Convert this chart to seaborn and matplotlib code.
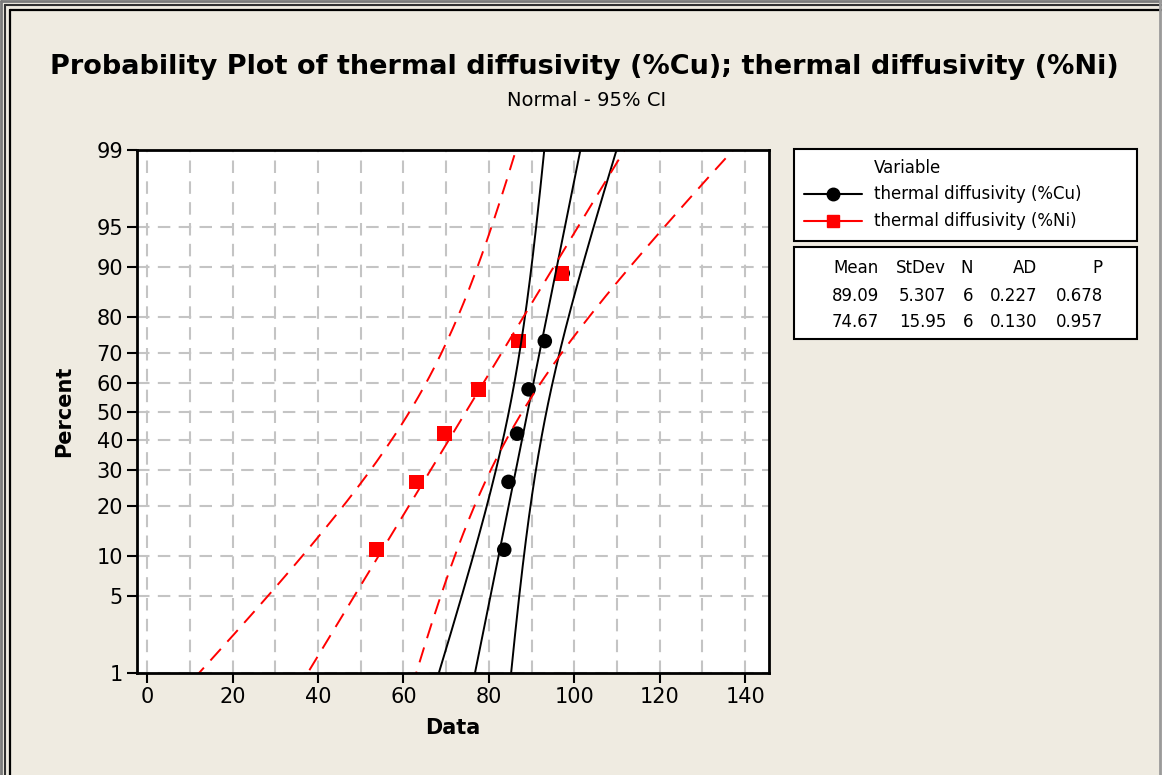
import numpy as np
import pandas as pd
import matplotlib
matplotlib.use("Agg")
import matplotlib.pyplot as plt
import seaborn as sns
from matplotlib.lines import Line2D
from matplotlib.patches import Rectangle
from statistics import NormalDist

# ---------------- data ----------------
series_names = ["thermal diffusivity (%Cu)", "thermal diffusivity (%Ni)"]
cu_values = [83.6, 84.6, 86.6, 89.3, 93.1, 97.3]
ni_values = [53.7, 63.1, 69.6, 77.6, 86.9, 97.1]
means = [89.09, 74.67]
stdevs = [5.307, 15.95]
ns = [6, 6]
ads = [0.227, 0.130]
pvals = [0.678, 0.957]
stat_headers = ["Mean", "StDev", "N", "AD", "P"]
percent_ticks = [1, 5, 10, 20, 30, 40, 50, 60, 70, 80, 90, 95, 99]
x_ticks = [0, 20, 40, 60, 80, 100, 120, 140]
x_grid = [10, 30, 50, 70, 90, 110, 130]
colors = ["#000000", "#FF0000"]
bg = "#EFEBE1"

nd = NormalDist()

def zval(p):
    return nd.inv_cdf(p)

# points with median-rank plotting positions
rows = []
for name, vals in zip(series_names, [cu_values, ni_values]):
    n = len(vals)
    for i, v in enumerate(sorted(vals), start=1):
        rows.append({"variable": name, "value": v, "z": zval((i - 0.3) / (n + 0.4))})
pts = pd.DataFrame(rows)

# fitted line and 95% CI bands
zgrid = np.linspace(zval(0.002), zval(0.998), 200)
line_rows = []
for name, m, s, n in zip(series_names, means, stdevs, ns):
    half = 1.96 * s * np.sqrt((1 + zgrid ** 2 / 2) / n) * 1.035
    fit = m + zgrid * s
    for kind, xs in [("fit", fit), ("lo", fit - half), ("hi", fit + half)]:
        for xv, zv in zip(xs, zgrid):
            line_rows.append({"variable": name, "kind": kind, "x": xv, "z": zv})
lines = pd.DataFrame(line_rows)

# ---------------- figure ----------------
sns.set_style("white")
plt.rcParams["font.family"] = ["DejaVu Sans"]
plt.rcParams["text.color"] = "black"
plt.rcParams["axes.labelcolor"] = "black"

W, H = 1162, 775
fig = plt.figure(figsize=(W / 100, H / 100), dpi=100, facecolor=bg)

# frame lines (top / left / right)
for off, lw, col in [(1, 2.0, "#7a7a7a"), (5, 1.5, "#303030"), (10, 1.6, "#000000")]:
    fig.add_artist(Line2D([off / W, off / W], [0, 1 - off / H], transform=fig.transFigure,
                          color=col, lw=lw))
    fig.add_artist(Line2D([off / W, 1], [1 - off / H, 1 - off / H], transform=fig.transFigure,
                          color=col, lw=lw))
fig.add_artist(Line2D([1160 / W, 1160 / W], [0, 1], transform=fig.transFigure, color="#9a9a9a", lw=2))

L, R, T, B = 137, 769, 150, 673
ax = fig.add_axes([L / W, 1 - B / H, (R - L) / W, (B - T) / H])
ax.set_facecolor("white")

# grid
ax.set_xticks(x_ticks)
ax.set_xticks(x_grid, minor=True)
ax.set_yticks([zval(p / 100) for p in percent_ticks])
ax.set_yticklabels([str(p) for p in percent_ticks])
ax.grid(True, which="both", color="#c4c4c4", linestyle=(0, (6, 4)), linewidth=1.5)
ax.set_axisbelow(True)

# lines
for name, col in zip(series_names, colors):
    for kind in ["lo", "fit", "hi"]:
        d = lines[(lines["variable"] == name) & (lines["kind"] == kind)]
        sns.lineplot(data=d, x="x", y="z", sort=False, estimator=None, color=col,
                     linewidth=1.4, ax=ax, legend=False,
                     linestyle="-" if col == "#000000" else (0, (8, 5)))

# points
sns.scatterplot(data=pts, x="value", y="z", hue="variable", style="variable",
                palette=colors, markers=["o", "s"], s=110, edgecolor="none",
                hue_order=series_names, style_order=series_names, legend=False, ax=ax)

ax.set_xlim(-2.4, 145.6)
ax.set_ylim(zval(0.01), zval(0.99))
ax.tick_params(axis="both", which="major", direction="out", length=7, width=1.5,
               labelsize=15, colors="black", labelcolor="black", pad=3,
               bottom=True, left=True, top=False, right=False)
ax.tick_params(axis="both", which="minor", length=0)
for sp in ax.spines.values():
    sp.set_visible(True)
    sp.set_color("black")
    sp.set_linewidth(2)
ax.set_xlabel("Data", fontsize=15, fontweight="bold", labelpad=8, color="black")
ax.set_ylabel("Percent", fontsize=15, fontweight="bold", labelpad=16, color="black")

# titles
fig.text(584 / W, 1 - 67 / H, "Probability Plot of thermal diffusivity (%Cu); thermal diffusivity (%Ni)",
         ha="center", va="center", fontsize=19.5, fontweight="bold", color="black")
fig.text(587 / W, 1 - 100 / H, "Normal - 95% CI", ha="center", va="center", fontsize=14, color="black")

# legend box
def fx(x):
    return x / W

def fy(y):
    return 1 - y / H

fig.add_artist(Rectangle((fx(794), fy(241)), fx(1137) - fx(794), fy(149) - fy(241),
                         transform=fig.transFigure, facecolor="white", edgecolor="black", lw=1.5))
fig.text(fx(874), fy(168), "Variable", ha="left", va="center", fontsize=12, color="black")
for i, (name, col, mk) in enumerate(zip(series_names, colors, ["o", "s"])):
    yy = fy(194 + 27 * i)
    fig.add_artist(Line2D([fx(804), fx(862)], [yy, yy], transform=fig.transFigure, color=col, lw=1.5))
    fig.add_artist(Line2D([fx(833)], [yy], transform=fig.transFigure, color=col, marker=mk,
                          markersize=9, linestyle="none"))
    fig.text(fx(874), yy, name, ha="left", va="center", fontsize=12, color="black")

# stats box
fig.add_artist(Rectangle((fx(794), fy(339)), fx(1137) - fx(794), fy(247) - fy(339),
                         transform=fig.transFigure, facecolor="white", edgecolor="black", lw=1.5))
col_right = [879, 946, 973, 1037, 1103]
for h, xr in zip(stat_headers, col_right):
    fig.text(fx(xr), fy(268), h, ha="right", va="center", fontsize=12, color="black")
for r, (m, s, n, a, p) in enumerate(zip(means, stdevs, ns, ads, pvals)):
    vals = [f"{m:.2f}", f"{s:.4g}" if s < 10 else f"{s:.2f}", str(n), f"{a:.3f}", f"{p:.3f}"]
    for v, xr in zip(vals, col_right):
        fig.text(fx(xr), fy(296 + 26 * r), v, ha="right", va="center", fontsize=12, color="black")

fig.savefig("out.png", dpi=100, facecolor=bg)
